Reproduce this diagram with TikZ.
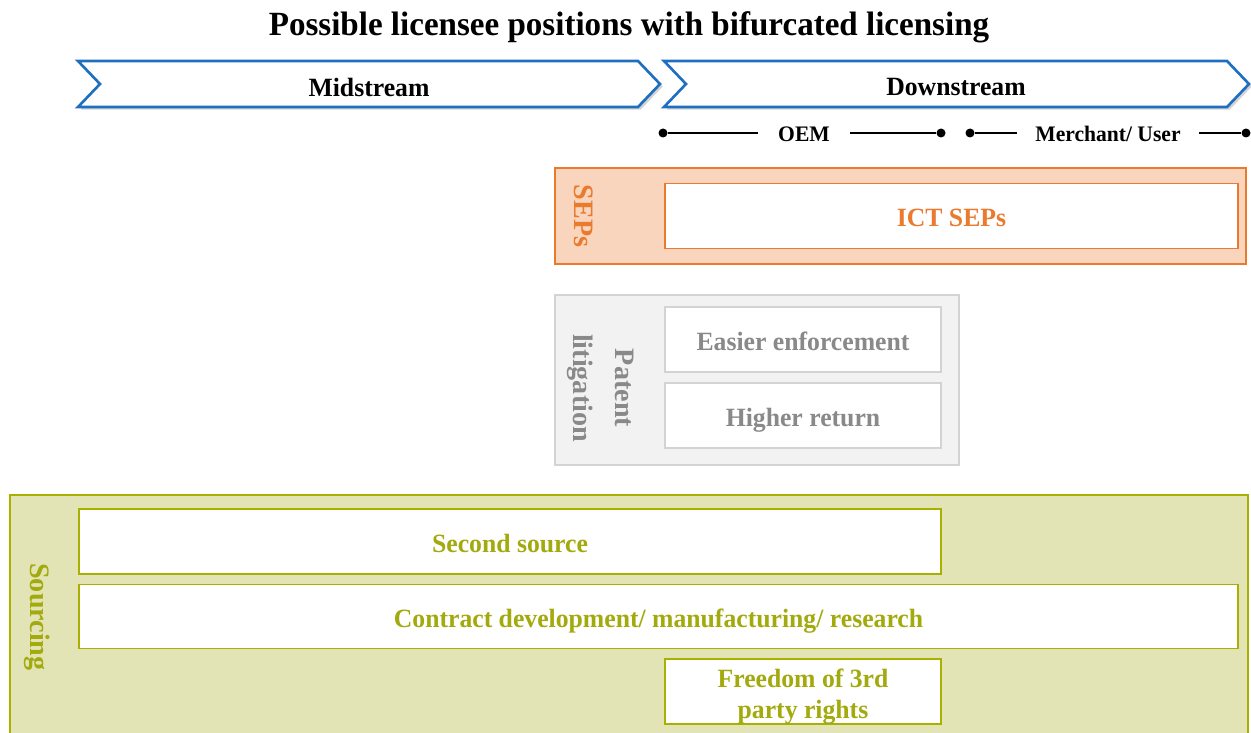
\documentclass[tikz,border=0pt]{standalone}
\usepackage{fontspec}
\setmainfont{Liberation Serif}
\newfontfamily\narrowserif[FakeStretch=0.975]{Liberation Serif}
\usetikzlibrary{shadows}
\definecolor{chevblue}{HTML}{1F6FC1}
\definecolor{sepline}{HTML}{E97A2E}
\definecolor{sepfill}{HTML}{F8D5BC}
\definecolor{litline}{HTML}{D3D3D3}
\definecolor{litfill}{HTML}{F2F2F2}
\definecolor{littext}{HTML}{898989}
\definecolor{srcline}{HTML}{A8B000}
\definecolor{srcfill}{HTML}{E2E4B5}
\definecolor{srctext}{HTML}{A3AA0E}
\begin{document}
\begin{tikzpicture}[x=0.02cm,y=-0.02cm,
  lbl/.style={font=\narrowserif\fontsize{15}{17.6}\selectfont\bfseries},
  small/.style={font=\narrowserif\fontsize{12.6}{15}\selectfont\bfseries},
  chev/.style={draw=chevblue,line width=1.5pt,fill=white,
    drop shadow={opacity=0.35,shadow xshift=1.5pt,shadow yshift=-1.5pt}},
  dot/.style={circle,fill=black,inner sep=0pt,minimum size=0.18cm},
  tl/.style={line width=1.1pt},
  tlabel/.style={small,inner xsep=0.4cm,inner ysep=0pt,text height=10.5pt,text depth=0.5pt},
  outer/.style={rectangle,line width=1.1pt,inner sep=0pt},
  inner/.style={rectangle,line width=1.1pt,fill=white,inner sep=0pt,align=center,lbl,
    text height=13pt,text depth=1pt},
  twoline/.style={text height=31.2pt,text depth=1pt},
  sepbox/.style={outer,draw=sepline,fill=sepfill},
  sepin/.style={inner,draw=sepline,text=sepline},
  litbox/.style={outer,draw=litline,fill=litfill},
  litin/.style={inner,draw=litline,text=littext},
  srcbox/.style={outer,draw=srcline,fill=srcfill},
  srcin/.style={inner,draw=srcline,text=srctext},
  side/.style={font=\fontsize{16}{24}\selectfont\bfseries,rotate=-90,align=center}]
\useasboundingbox (0,0) rectangle (1251,733);

% title
\node[font=\narrowserif\fontsize{19.3}{22}\selectfont\bfseries] (title) at (629,27)
  {Possible licensee positions with bifurcated licensing};

% value chain chevrons
\draw[chev] (78,61) -- (638,61) -- (660,84) -- (638,107) -- (78,107) -- (100,84) -- cycle;
\node[lbl] (mid) at (369,87) {Midstream};
\draw[chev] (664,61) -- (1227,61) -- (1249,84) -- (1227,107) -- (664,107) -- (686,84) -- cycle;
\node[lbl] (down) at (956,87) {Downstream};

% OEM and merchant spans
\node[dot] (d1) at (663,133) {};
\node[dot] (d2) at (941,133) {};
\node[dot] (d3) at (970,133) {};
\node[dot] (d4) at (1246,133) {};
\node[tlabel] (oem) at (804,133) {OEM};
\node[tlabel,inner xsep=0.36cm] (merch) at (1108,133) {Merchant/ User};
\draw[tl] (d1) -- (oem);
\draw[tl] (oem) -- (d2);
\draw[tl] (d3) -- (merch);
\draw[tl] (merch) -- (d4);

% SEPs
\node[sepbox,minimum width=13.82cm,minimum height=1.92cm] (sep) at (900.5,216) {};
\node[side,text=sepline] (seplbl) at (584,216) {SEPs};
\node[sepin,minimum width=11.46cm,minimum height=1.3cm] (ict) at (951.5,216) {ICT SEPs};

% patent litigation
\node[litbox,minimum width=8.08cm,minimum height=3.4cm] (lit) at (757,380) {};
\node[side,text=littext] (litlbl) at (601,388) {Patent\\litigation};
\node[litin,minimum width=5.52cm,minimum height=1.3cm] (easy) at (803,339.5) {Easier enforcement};
\node[litin,minimum width=5.52cm,minimum height=1.3cm] (high) at (803,415.5) {Higher return};

% sourcing
\node[srcbox,minimum width=24.76cm,minimum height=4.9cm] (src) at (629,617.5) {};
\node[side,text=srctext] (srclbl) at (37,617) {Sourcing};
\node[srcin,minimum width=17.24cm,minimum height=1.3cm] (second) at (510,541.5) {Second source};
\node[srcin,minimum width=23.18cm,minimum height=1.28cm] (contract) at (658.5,616.5) {Contract development/ manufacturing/ research};
\node[srcin,twoline,minimum width=5.52cm,minimum height=1.3cm] (free) at (803,691.5) {Freedom of 3rd\\party rights};
\end{tikzpicture}
\end{document}
